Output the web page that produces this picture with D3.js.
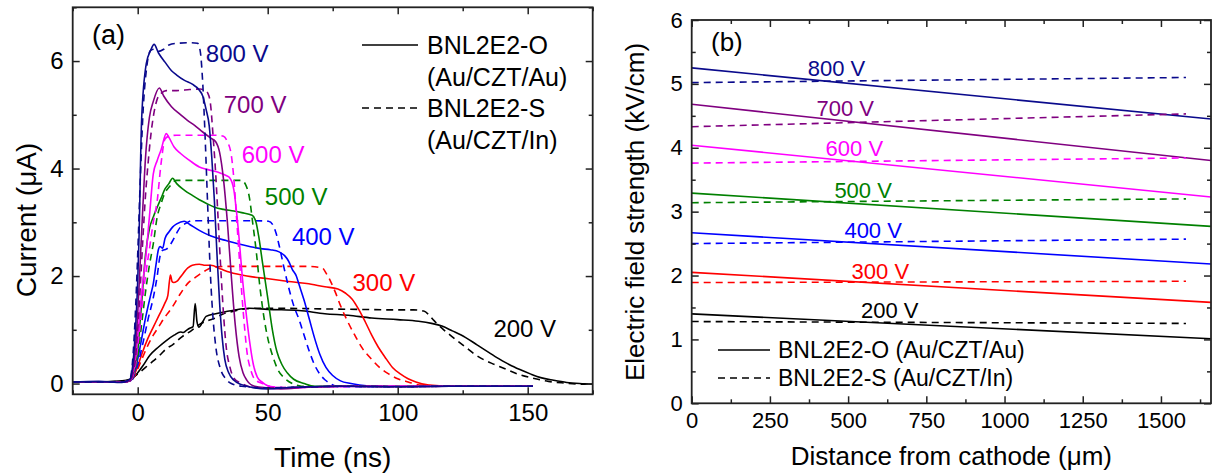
<!DOCTYPE html>
<html><head><meta charset="utf-8">
<script src="https://cdn.jsdelivr.net/npm/d3@7"></script>
<style>
body{margin:0;background:#fff}
svg{display:block}
text{font-family:"Liberation Sans",Arial,Helvetica,sans-serif}
</style>
</head><body>
<svg id="c" width="1218" height="475"></svg>
<script>
// ---------------- Panel (a) data : time (ns), current (uA) ----------------
const voltages = ["800 V","700 V","600 V","500 V","400 V","300 V","200 V"];
const colors   = ["#0a0a8c","#800080","#ff00ff","#008000","#0000ff","#ff0000","#000000"];

const a800O = [[-25,0.03],[-15,0.04],[-6,0.02],[-3,0.08],[-2,0.3],[-1,0.9],[0,1.9],[0.5,2.7],[1.5,4.9],[3.3,5.95],[5,6.2],[6.3,6.31],[8,6.15],[10.5,5.98],[13,5.82],[15,5.74],[18,5.64],[21,5.57],[23.5,5.47],[25,5.35],[26.3,5.1],[27.5,4.8],[28.5,4.2],[29.5,3.4],[30.5,2.4],[31.5,1.5],[32.5,0.85],[33.5,0.45],[35,0.2],[37,0.06],[40,-0.02],[45,-0.08],[50,-0.1],[60,-0.07],[80,-0.05],[100,-0.06],[120,-0.05],[140,-0.05],[152,-0.05]];
const a800S = [[-25,0.03],[-15,0.03],[-6,0.03],[-3,0.08],[-2,0.4],[-1,1.2],[0,2.4],[1,3.8],[2,5.0],[3.5,5.9],[5,6.2],[6.5,6.22],[8,6.18],[10,6.22],[12,6.3],[15,6.33],[20,6.34],[23,6.33],[24,6.2],[25,5.6],[26,4.5],[27,3.2],[28,2.0],[29,1.2],[30,0.7],[32,0.25],[34,0.08],[36,0],[40,-0.05],[50,-0.08],[60,-0.07],[80,-0.05],[100,-0.06],[120,-0.05],[152,-0.05]];
const a700O = [[-25,0.03],[-15,0.03],[-6,0.03],[-3,0.05],[-2,0.2],[-1,0.6],[0,1.3],[1,2.3],[2,3.3],[3,4.2],[4.5,4.95],[6,5.25],[8.3,5.5],[10,5.35],[13,5.15],[16,5.02],[19,4.9],[22,4.8],[25,4.68],[28,4.57],[30,4.5],[31.5,4.3],[33,3.8],[34.5,3.0],[36,2.0],[37.5,1.1],[39,0.5],[40.5,0.2],[42,0.06],[45,-0.05],[50,-0.08],[55,-0.1],[65,-0.07],[80,-0.05],[100,-0.06],[120,-0.05],[152,-0.05]];
const a700S = [[-25,0.03],[-15,0.03],[-6,0.03],[-3,0.05],[-2,0.15],[-1,0.4],[0,1.0],[1,1.8],[2,2.7],[3,3.5],[4,4.1],[5,4.6],[6.5,5.1],[8,5.35],[9,5.4],[11,5.45],[15,5.45],[20,5.47],[24,5.48],[26,5.45],[27,5.4],[28,5.2],[29,4.6],[30,3.9],[31,3.0],[32,2.1],[33,1.3],[34,0.7],[35.5,0.3],[37,0.1],[40,0.0],[44,-0.07],[50,-0.08],[60,-0.07],[80,-0.05],[100,-0.06],[120,-0.05],[152,-0.05]];
const a600O = [[-25,0.03],[-15,0.03],[-6,0.03],[-3,0.05],[-2,0.15],[-1,0.4],[0,0.9],[1,1.4],[2,1.9],[3,2.3],[4.5,3.1],[6,3.9],[7.5,4.15],[9,4.35],[11,4.65],[12,4.58],[14,4.4],[16.5,4.28],[20,4.15],[23.7,4.03],[27,3.98],[31,3.93],[34,3.87],[35.5,3.82],[37,3.6],[38,3.2],[39,2.7],[40.2,2.0],[41.5,1.4],[43,0.8],[44.5,0.35],[46,0.12],[48,0.02],[52,-0.07],[60,-0.08],[70,-0.06],[90,-0.05],[120,-0.05],[152,-0.05]];
const a600S = [[-25,0.03],[-15,0.03],[-6,0.03],[-3,0.05],[-2,0.12],[-1,0.3],[0,0.7],[1,1.1],[2,1.6],[3,2.0],[4.5,2.5],[6,3.0],[7.5,3.4],[9,4.1],[10.5,4.55],[12,4.6],[15,4.62],[20,4.62],[25,4.62],[30,4.62],[33,4.6],[34.5,4.5],[36,4.25],[37,3.8],[38,3.1],[39,2.4],[40,1.7],[41,1.1],[42,0.6],[43.5,0.25],[45,0.08],[48,0],[52,-0.06],[60,-0.08],[70,-0.06],[90,-0.05],[120,-0.05],[152,-0.05]];
const a500O = [[-25,0.03],[-15,0.03],[-6,0.03],[-3,0.05],[-2,0.12],[-1,0.3],[0,0.6],[1,1.2],[1.6,1.55],[3,2.4],[4.6,2.9],[6,3.1],[7.5,3.28],[9,3.45],[10.5,3.62],[12,3.72],[13.4,3.82],[15,3.72],[17.9,3.6],[21,3.5],[23.7,3.42],[26.5,3.35],[29.6,3.28],[33,3.24],[37,3.21],[40,3.18],[44,3.13],[45.5,3.0],[46.5,2.75],[48,2.25],[50,1.6],[51.8,1.0],[53.5,0.6],[55.5,0.35],[57.5,0.2],[60,0.08],[64,0],[68,-0.05],[80,-0.05],[100,-0.05],[120,-0.05],[152,-0.05]];
const a500S = [[-25,0.03],[-15,0.03],[-6,0.03],[-3,0.05],[-2,0.1],[-1,0.25],[0,0.5],[1,0.9],[2,1.3],[3,1.7],[4.5,2.2],[6,2.6],[7.5,3.1],[9,3.35],[10.5,3.55],[12,3.65],[14.9,3.78],[20,3.78],[25,3.78],[30,3.78],[35,3.78],[40,3.78],[41.5,3.7],[43,3.45],[44.2,3.0],[45.5,2.5],[47,1.8],[48.5,1.25],[50,0.85],[52,0.5],[54,0.25],[56.5,0.1],[59.5,0.0],[63,-0.05],[70,-0.06],[80,-0.05],[100,-0.05],[120,-0.05],[152,-0.05]];
const a400O = [[-25,0.03],[-15,0.03],[-6,0.03],[-3,0.05],[-2,0.1],[-1,0.25],[0,0.45],[1,0.7],[3.1,1.24],[5,1.65],[6,1.86],[7,2.2],[8,2.5],[8.6,2.55],[9.6,2.52],[10.5,2.7],[12,2.82],[13.4,2.91],[15,2.97],[17.9,3.02],[20,2.96],[23.7,2.85],[26.5,2.78],[29.6,2.72],[34,2.66],[38.5,2.6],[43,2.55],[47.3,2.51],[51,2.49],[54.4,2.45],[56.5,2.38],[58,2.28],[59.5,2.12],[61,2.0],[62,1.85],[64,1.55],[66,1.2],[68,0.85],[70,0.55],[72.4,0.3],[75,0.15],[78,0.05],[82,0],[88,-0.04],[100,-0.05],[120,-0.05],[152,-0.05]];
const a400S = [[-25,0.03],[-15,0.03],[-6,0.03],[-3,0.05],[-2,0.08],[-1,0.2],[0,0.35],[2,0.75],[4,1.2],[6,1.6],[7.5,2.0],[8.5,2.35],[9.6,2.48],[11,2.5],[13,2.62],[15,2.8],[16.4,2.91],[18.5,2.98],[21,3.03],[25,3.03],[30,3.03],[35,3.03],[40,3.03],[45,3.03],[50.3,3.02],[52,2.95],[53.2,2.8],[54.5,2.55],[56.2,2.17],[58,1.8],[60,1.45],[62,1.2],[64,0.9],[66,0.6],[68,0.35],[70,0.18],[72,0.07],[74,0],[77,-0.06],[85,-0.06],[100,-0.05],[120,-0.05],[152,-0.05]];
const a300O = [[-25,0.03],[-15,0.03],[-6,0.03],[-3,0.05],[-2,0.1],[-1,0.2],[0,0.32],[1.6,0.55],[4,0.85],[6,1.05],[8,1.25],[10.5,1.5],[11.6,1.64],[12.2,1.9],[12.6,2.02],[13.2,1.9],[13.8,1.88],[15,1.9],[16.4,1.98],[19.3,2.15],[21,2.2],[23.7,2.22],[26,2.2],[28.1,2.2],[32,2.13],[35.5,2.07],[42,2.0],[50.3,1.95],[58,1.9],[65,1.86],[72,1.8],[77,1.76],[80,1.68],[82.5,1.57],[85,1.38],[87.5,1.15],[90,0.9],[92.5,0.68],[95,0.5],[98,0.3],[101,0.18],[104,0.09],[107,0.03],[112,-0.03],[120,-0.05],[135,-0.05],[152,-0.05]];
const a300S = [[-25,0.03],[-15,0.03],[-6,0.03],[-3,0.05],[-2,0.08],[-1,0.15],[0,0.27],[2,0.5],[4,0.72],[6,0.9],[8,1.05],[10.5,1.24],[13,1.4],[16.4,1.67],[19,1.85],[22.3,1.98],[26,2.1],[29.6,2.17],[35,2.18],[45,2.18],[55,2.18],[65,2.18],[71,2.15],[72.5,2.05],[74,1.92],[76,1.7],[78,1.45],[80.5,1.18],[83.5,0.9],[86.5,0.65],[90,0.45],[93,0.3],[96.5,0.18],[100,0.09],[104,0.03],[109,-0.03],[120,-0.05],[135,-0.05],[152,-0.05]];
const a200O = [[-25,0.03],[-15,0.03],[-6,0.05],[-3,0.08],[-1,0.14],[0,0.2],[2,0.33],[4.6,0.52],[8,0.68],[11,0.8],[14,0.9],[16.5,0.96],[17.5,0.95],[18.5,0.98],[20,1.03],[21.3,1.06],[22.1,1.49],[22.8,1.15],[23.5,1.05],[25,1.15],[26.3,1.25],[30,1.3],[36.5,1.36],[43,1.4],[50,1.38],[62,1.36],[72,1.3],[81,1.27],[90,1.22],[100,1.19],[108,1.16],[113,1.12],[117,1.07],[121,0.98],[126,0.86],[130.5,0.72],[135,0.58],[139,0.46],[143,0.35],[147,0.26],[151,0.18],[155,0.11],[160,0.06],[165,0.02],[170,0],[175,-0.01]];
const a200S = [[-25,0.03],[-15,0.03],[-6,0.04],[-3,0.08],[0,0.18],[3,0.3],[6,0.42],[9,0.55],[11,0.65],[13.4,0.72],[17,0.87],[20.8,0.99],[23.8,1.1],[27,1.17],[30,1.22],[33,1.3],[36.5,1.34],[40,1.38],[45,1.4],[55,1.4],[70,1.39],[85,1.38],[100,1.37],[106,1.37],[110,1.35],[112,1.28],[114,1.17],[117,1.03],[121,0.87],[126,0.68],[131,0.5],[136,0.38],[141,0.28],[146,0.18],[152,0.1],[158,0.04],[164,0.01],[170,-0.01],[175,0]];

const seriesO = [a800O,a700O,a600O,a500O,a400O,a300O,a200O];
const seriesS = [a800S,a700S,a600S,a500S,a400S,a300S,a200S];
const timeTicks = [0,50,100,150];
const currentTicks = [0,2,4,6];

// ---------------- Panel (b) data : distance (um), field (kV/cm) ----------------
const distO = [0,1660];
const distS = [0,1580];
const fieldOStart = [5.25,4.68,4.04,3.29,2.67,2.05,1.40];
const fieldOEnd   = [4.45,3.80,3.23,2.77,2.18,1.58,1.01];
const fieldSStart = [5.02,4.33,3.76,3.14,2.50,1.89,1.28];
const fieldSEnd   = [5.10,4.53,3.84,3.20,2.57,1.91,1.25];
const distTicks  = [0,250,500,750,1000,1250,1500];
const fieldTicks = [0,1,2,3,4,5,6];

// ---------------- layout ----------------
const svg = d3.select("#c");
const DASH = "7,5";
const FONT = '"Liberation Sans",Arial,Helvetica,sans-serif';

function frame(g, x, y, xMajor, xMinor, yMajor, yMinor, fs, padX, padY){
  const [x0,x1] = x.range(), [y0,y1] = y.range();
  const T = 7, t = 4;
  const fmt = d3.format("d");
  const mk = (sel)=>sel.call(s=>s.select(".domain").remove());
  g.append("g").attr("transform",`translate(0,${y0})`)
    .call(d3.axisBottom(x).tickValues(xMajor).tickSizeInner(-T).tickSizeOuter(0).tickPadding(padX).tickFormat(fmt)).call(mk);
  g.append("g").attr("transform",`translate(0,${y0})`)
    .call(d3.axisBottom(x).tickValues(xMinor).tickSizeInner(-t).tickSizeOuter(0).tickFormat("")).call(mk);
  g.append("g").attr("transform",`translate(0,${y1})`)
    .call(d3.axisTop(x).tickValues(xMajor).tickSizeInner(-T).tickSizeOuter(0).tickFormat("")).call(mk);
  g.append("g").attr("transform",`translate(0,${y1})`)
    .call(d3.axisTop(x).tickValues(xMinor).tickSizeInner(-t).tickSizeOuter(0).tickFormat("")).call(mk);
  g.append("g").attr("transform",`translate(${x0},0)`)
    .call(d3.axisLeft(y).tickValues(yMajor).tickSizeInner(-T).tickSizeOuter(0).tickPadding(padY).tickFormat(fmt)).call(mk);
  g.append("g").attr("transform",`translate(${x0},0)`)
    .call(d3.axisLeft(y).tickValues(yMinor).tickSizeInner(-t).tickSizeOuter(0).tickFormat("")).call(mk);
  g.append("g").attr("transform",`translate(${x1},0)`)
    .call(d3.axisRight(y).tickValues(yMajor).tickSizeInner(-T).tickSizeOuter(0).tickFormat("")).call(mk);
  g.append("g").attr("transform",`translate(${x1},0)`)
    .call(d3.axisRight(y).tickValues(yMinor).tickSizeInner(-t).tickSizeOuter(0).tickFormat("")).call(mk);
  g.selectAll(".tick line").attr("stroke","#222").attr("stroke-width",1.5);
  g.selectAll(".tick text").style("font-size",fs+"px").style("fill","#000").style("font-family",FONT);
  g.append("rect").attr("x",x0).attr("y",y1).attr("width",x1-x0).attr("height",y0-y1)
    .attr("fill","none").attr("stroke","#222").attr("stroke-width",1.8);
}

// ---------- Panel (a) ----------
const ga = svg.append("g");
const xa = d3.scaleLinear().domain([-25,175]).range([72.7,592.7]);
const ya = d3.scaleLinear().domain([-0.2,7]).range([394.3,7.3]);
const lineA = d3.line().x(d=>xa(d[0])).y(d=>ya(d[1])).curve(d3.curveMonotoneX);

ga.append("clipPath").attr("id","clipA").append("rect")
  .attr("x",72.7).attr("y",7.3).attr("width",520).attr("height",387);
const plotA = ga.append("g").attr("clip-path","url(#clipA)");
for (let i = seriesO.length-1; i >= 0; i--) {
  plotA.append("path").datum(seriesS[i]).attr("d",lineA).attr("fill","none")
    .attr("stroke",colors[i]).attr("stroke-width",1.6).attr("stroke-dasharray",DASH);
  plotA.append("path").datum(seriesO[i]).attr("d",lineA).attr("fill","none")
    .attr("stroke",colors[i]).attr("stroke-width",1.6);
}
frame(ga, xa, ya, timeTicks, [-25,25,75,125,175], currentTicks, [1,3,5,7], 24, 10, 9);

const labelA = [[26.2,5.98],[33.1,5.03],[40,4.1],[48.9,3.32],[59.3,2.57],[82.6,1.73],[136.8,0.86]];
voltages.forEach((v,i)=>{
  ga.append("text").attr("x",xa(labelA[i][0])).attr("y",ya(labelA[i][1]))
    .style("fill",colors[i]).style("font-size","24px").text(v);
});
ga.append("text").attr("x",92).attr("y",44).style("font-size","27px").text("(a)");
ga.append("line").attr("x1",362).attr("x2",418).attr("y1",45).attr("y2",45).attr("stroke","#000").attr("stroke-width",1.6);
ga.append("line").attr("x1",362).attr("x2",418).attr("y1",108).attr("y2",108).attr("stroke","#000").attr("stroke-width",1.6).attr("stroke-dasharray",DASH);
[["BNL2E2-O",53.5],["(Au/CZT/Au)",86],["BNL2E2-S",116.5],["(Au/CZT/In)",149]].forEach(d=>{
  ga.append("text").attr("x",427).attr("y",d[1]).style("font-size","25px").text(d[0]);
});
ga.append("text").attr("x",(72.7+592.7)/2).attr("y",467).attr("text-anchor","middle")
  .style("font-size","28px").text("Time (ns)");
ga.append("text").attr("transform","translate(36,220) rotate(-90)").attr("text-anchor","middle")
  .style("font-size","28px").text("Current (\u03bcA)");

// ---------- Panel (b) ----------
const gb = svg.append("g");
const xb = d3.scaleLinear().domain([0,1660]).range([691.7,1211]);
const yb = d3.scaleLinear().domain([0,6]).range([403.3,20]);
const lineB = d3.line().x(d=>xb(d[0])).y(d=>yb(d[1]));
fieldOStart.forEach((v,i)=>{
  gb.append("path").datum([[distO[0],v],[distO[1],fieldOEnd[i]]]).attr("d",lineB)
    .attr("fill","none").attr("stroke",colors[i]).attr("stroke-width",1.6);
  gb.append("path").datum([[distS[0],fieldSStart[i]],[distS[1],fieldSEnd[i]]]).attr("d",lineB)
    .attr("fill","none").attr("stroke",colors[i]).attr("stroke-width",1.6).attr("stroke-dasharray",DASH);
});
frame(gb, xb, yb, distTicks, [125,375,625,875,1125,1375,1625], fieldTicks, [0.5,1.5,2.5,3.5,4.5,5.5], 22, 9, 9);
const labelB = [[463,5.12],[491,4.5],[520,3.875],[548,3.22],[580,2.59],[603,1.95],[633,1.33]];
voltages.forEach((v,i)=>{
  gb.append("text").attr("x",xb(labelB[i][0])).attr("y",yb(labelB[i][1])).attr("text-anchor","middle")
    .style("fill",colors[i]).style("font-size","22px").text(v);
});
gb.append("text").attr("x",711).attr("y",51).style("font-size","26px").text("(b)");
gb.append("line").attr("x1",718).attr("x2",770).attr("y1",350).attr("y2",350).attr("stroke","#000").attr("stroke-width",1.6);
gb.append("line").attr("x1",718).attr("x2",770).attr("y1",378).attr("y2",378).attr("stroke","#000").attr("stroke-width",1.6).attr("stroke-dasharray",DASH);
gb.append("text").attr("x",778).attr("y",358).style("font-size","23px").text("BNL2E2-O (Au/CZT/Au)");
gb.append("text").attr("x",778).attr("y",386).style("font-size","23px").text("BNL2E2-S (Au/CZT/In)");
gb.append("text").attr("x",(691.7+1211)/2).attr("y",465).attr("text-anchor","middle")
  .style("font-size","26px").text("Distance from cathode (\u03bcm)");
gb.append("text").attr("transform","translate(644,212) rotate(-90)").attr("text-anchor","middle")
  .style("font-size","26px").text("Electric field strength (kV/cm)");
</script>
</body></html>
